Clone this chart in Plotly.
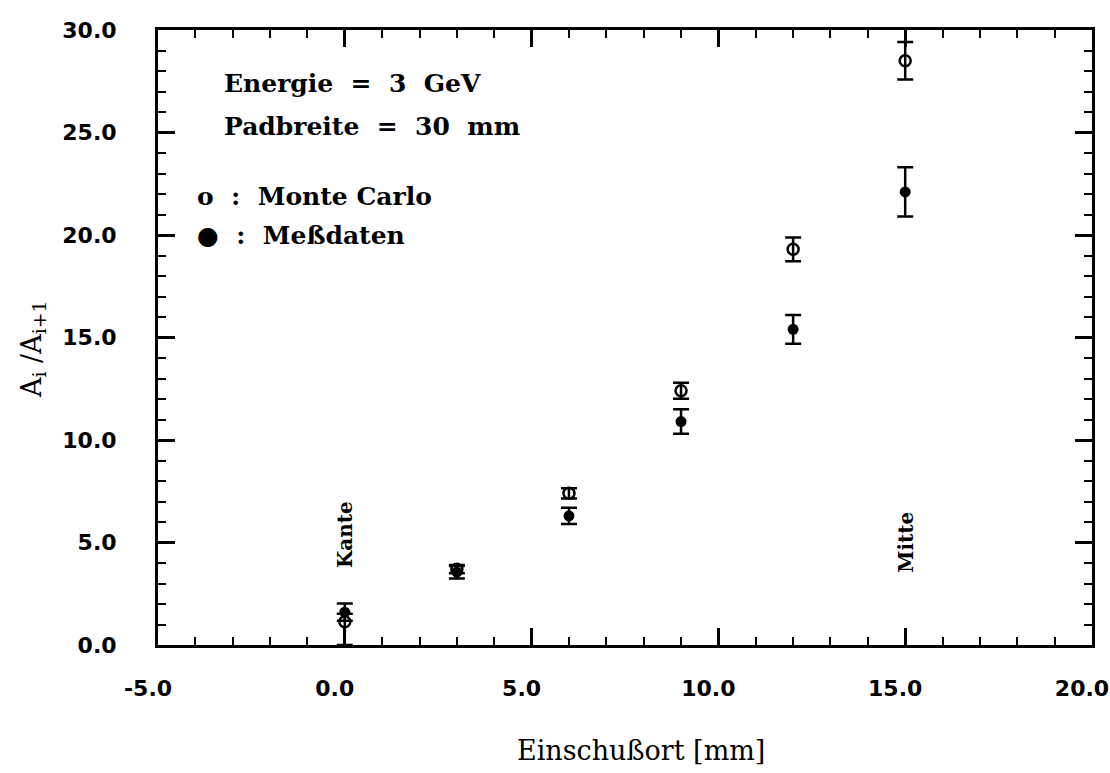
import plotly.graph_objects as go

x_pos = [0, 3, 6, 9, 12, 15]
mc_vals = [1.13, 3.7, 7.4, 12.4, 19.3, 28.5]
mc_err_plus = [0.4, 0.2, 0.25, 0.39, 0.58, 0.92]
mc_err_minus = [1.13, 0.2, 0.25, 0.39, 0.58, 0.92]
data_vals = [1.6, 3.55, 6.3, 10.9, 15.4, 22.1]
data_err = [0.42, 0.3, 0.4, 0.6, 0.7, 1.2]

x_ticks = [-5, 0, 5, 10, 15, 20]
y_ticks = [0, 5, 10, 15, 20, 25, 30]

fig = go.Figure()
fig.add_trace(go.Scatter(
    x=x_pos, y=mc_vals, mode="markers",
    marker=dict(symbol="circle-open", size=11, color="black", line=dict(width=2.5)),
    error_y=dict(type="data", array=mc_err_plus, arrayminus=mc_err_minus,
                 color="black", thickness=2.5, width=8),
    showlegend=False))
fig.add_trace(go.Scatter(
    x=x_pos, y=data_vals, mode="markers",
    marker=dict(symbol="circle", size=11, color="black"),
    error_y=dict(type="data", array=data_err, color="black", thickness=2.5, width=8),
    showlegend=False))

tickfont = dict(family="DejaVu Sans", size=22, color="black", weight="bold")
fig.update_xaxes(range=[-5, 20], tickvals=x_ticks, ticktext=[f"{v:.1f}" for v in x_ticks],
                 ticks="inside", ticklen=17, tickwidth=2.5, tickcolor="black",
                 minor=dict(dtick=1, ticks="inside", ticklen=8, tickwidth=2, tickcolor="black"),
                 showline=True, linewidth=3, linecolor="black", mirror="ticks",
                 showgrid=False, zeroline=False, tickfont=tickfont, automargin=False,
                 ticklabelstandoff=22, ticklabeloverflow="allow", ticklabelshift=-10)
fig.update_yaxes(range=[0, 30], tickvals=y_ticks, ticktext=[f"{v:.1f}" for v in y_ticks],
                 ticks="inside", ticklen=17, tickwidth=2.5, tickcolor="black",
                 minor=dict(dtick=1, ticks="inside", ticklen=8, tickwidth=2, tickcolor="black"),
                 showline=True, linewidth=3, linecolor="black", mirror="ticks",
                 showgrid=False, zeroline=False, tickfont=tickfont, ticklabelstandoff=34,
                 automargin=False)

# axis titles as annotations
fig.add_annotation(xref="paper", yref="paper", x=0.382, y=-0.171, text="Einschußort [mm]",
                   showarrow=False, xanchor="left", yanchor="middle",
                   font=dict(family="DejaVu Serif", size=27, color="black"))
fig.add_annotation(xref="paper", yref="paper", x=-0.134, y=0.481,
                   text="A<sub>i</sub> /A<sub>i+1</sub>", showarrow=False, textangle=-90,
                   xanchor="center", yanchor="middle",
                   font=dict(family="DejaVu Serif", size=27, color="black"))

ann_font = dict(family="DejaVu Serif", size=25, color="black")
fig.add_annotation(x=-3.3, y=27.4, text="<b>Energie  =  3  GeV</b>", showarrow=False,
                   xanchor="left", font=ann_font)
fig.add_annotation(x=-3.3, y=25.3, text="<b>Padbreite  =  30  mm</b>", showarrow=False,
                   xanchor="left", font=ann_font)
fig.add_annotation(x=-4.0, y=21.9, text="<b>o  :  Monte Carlo</b>", showarrow=False,
                   xanchor="left", font=ann_font)
fig.add_annotation(x=-4.0, y=20.0, text="<b>●  :  Meßdaten</b>", showarrow=False,
                   xanchor="left", font=ann_font)
fig.add_annotation(x=0, y=5.4, text="<b>Kante</b>", showarrow=False, textangle=-90,
                   font=dict(family="DejaVu Serif", size=20, color="black"))
fig.add_annotation(x=15, y=5.0, text="<b>Mitte</b>", showarrow=False, textangle=-90,
                   font=dict(family="DejaVu Serif", size=20, color="black"))

fig.update_layout(width=1110, height=773, margin=dict(l=158, r=18, t=30, b=128),
                  plot_bgcolor="white", paper_bgcolor="white")
fig.write_html("out.html")
